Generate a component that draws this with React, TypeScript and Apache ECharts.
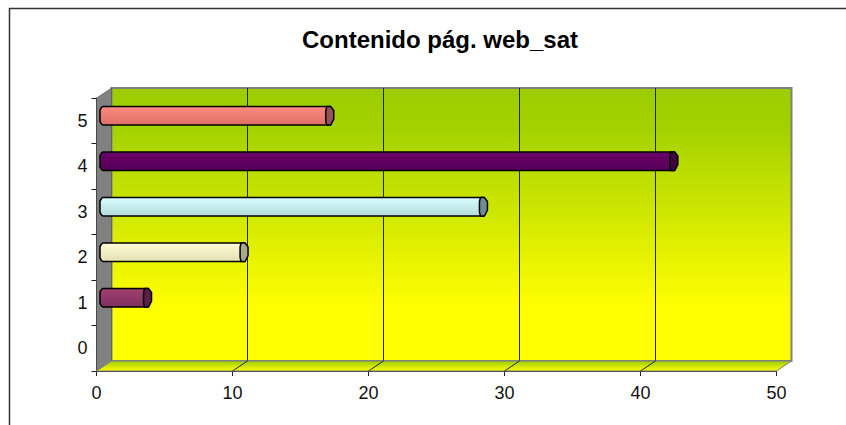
import React, { useEffect, useRef } from "react";
import * as echarts from "echarts";

const categories = ["0", "1", "2", "3", "4", "5"];
const values = [0, 3.2, 10.3, 27.9, 41.9, 16.6];
const bodyTop = ["#000000", "#a04070", "#fffbd8", "#d8ffff", "#6a006a", "#ff8a80"];
const bodyBottom = ["#000000", "#803060", "#e4e0b0", "#b4dcdc", "#580058", "#dd7068"];
const capColors = ["#000000", "#5c2048", "#a8a88c", "#708c90", "#400040", "#985058"];
const xTicks = [0, 10, 20, 30, 40, 50];
const DX = 15;
const DY = -10;

const font = "'Liberation Sans', Arial, sans-serif";

export default function App() {
  const ref = useRef<HTMLDivElement>(null);
  useEffect(() => {
    document.body.style.margin = "0";
    const chart = echarts.init(ref.current!, null, { renderer: "svg" });
    const wallGradient = new echarts.graphic.LinearGradient(0, 0, 0, 1, [
      { offset: 0, color: "#9ccc00" },
      { offset: 0.15, color: "#a4d200" },
      { offset: 0.8, color: "#ffff00" },
      { offset: 1, color: "#ffff00" },
    ]);
    chart.setOption({
      animation: false,
      backgroundColor: "#ffffff",
      title: {
        text: "Contenido pág. web_sat",
        left: 297,
        top: 22,
        textStyle: { fontFamily: font, fontSize: 24, fontWeight: "bold", color: "#000" },
      },
      graphic: [
        {
          type: "polyline",
          shape: { points: [[9.5, 425], [9.5, 8.5], [846, 8.5]] },
          style: { stroke: "#333333", fill: "none", lineWidth: 1.5 },
        },
      ],
      grid: [
        { left: 96.5, top: 98, width: 680, height: 273, containLabel: false, z: 3 },
        {
          left: 111.5, top: 88, width: 680, height: 273, show: true, z: 0,
          backgroundColor: wallGradient, borderColor: "#808080", borderWidth: 2,
        },
      ],
      xAxis: [
        {
          type: "value", gridIndex: 0, min: 0, max: 50, interval: 10,
          axisLine: { show: true, lineStyle: { color: "#222", width: 1 } },
          axisTick: { show: true, length: 5, lineStyle: { color: "#222" } },
          axisLabel: { fontFamily: font, fontSize: 18, color: "#111", margin: 13 },
          splitLine: { show: false },
        },
        {
          type: "value", gridIndex: 1, min: 0, max: 50, interval: 10,
          axisLine: { show: false }, axisTick: { show: false }, axisLabel: { show: false },
          splitLine: { show: true, showMinLine: false, showMaxLine: false, lineStyle: { color: "#222", width: 1 } },
        },
      ],
      yAxis: [
        {
          type: "category", gridIndex: 0, data: categories,
          axisLine: { show: true, lineStyle: { color: "#222", width: 1 } },
          axisTick: { show: true, length: 5, alignWithLabel: false, lineStyle: { color: "#222" } },
          axisLabel: { fontFamily: font, fontSize: 18, color: "#111", margin: 9 },
          splitLine: { show: false },
        },
        { type: "category", gridIndex: 1, data: categories, show: false },
      ],
      series: [
        {
          type: "custom",
          name: "walls",
          xAxisIndex: 0,
          yAxisIndex: 0,
          silent: true,
          z: 1,
          clip: false,
          data: [[0, 0]],
          renderItem: (_p: any, api: any) => {
            const bandH = api.size([0, 1])[1];
            const left = api.coord([0, 0])[0];
            const right = api.coord([50, 0])[0];
            const bottom = api.coord([0, 0])[1] + bandH / 2;
            const top = api.coord([0, 5])[1] - bandH / 2;
            const children: any[] = [
              {
                type: "polygon",
                shape: { points: [[left, top], [left + DX, top + DY], [left + DX, bottom + DY], [left, bottom]] },
                style: { fill: "#808080", stroke: "#444444", lineWidth: 0.5 },
              },
              {
                type: "polygon",
                shape: { points: [[left, bottom], [left + DX, bottom + DY], [right + DX, bottom + DY], [right, bottom]] },
                style: {
                  fill: new echarts.graphic.LinearGradient(0, 0, 0, 1, [
                    { offset: 0, color: "#9ccc00" },
                    { offset: 1, color: "#ffff00" },
                  ]),
                  stroke: "#808080",
                  lineWidth: 1,
                },
              },
            ];
            xTicks.slice(1, -1).forEach((t) => {
              const x = api.coord([t, 0])[0];
              children.push({
                type: "line",
                shape: { x1: x, y1: bottom, x2: x + DX, y2: bottom + DY },
                style: { stroke: "#222", lineWidth: 1 },
              });
            });
            return { type: "group", children };
          },
        },
        {
          type: "custom",
          name: "web_sat",
          xAxisIndex: 0,
          yAxisIndex: 0,
          z: 5,
          clip: false,
          data: values.map((v, i) => [v, i]),
          renderItem: (params: any, api: any) => {
            const idx = params.dataIndex;
            const v = api.value(0);
            if (!v) return { type: "group", children: [] };
            const o = api.coord([0, api.value(1)]);
            const e = api.coord([v, api.value(1)]);
            const x0 = o[0] + DX / 2;
            const x1 = e[0] + DX / 2;
            const cy = o[1] + DY / 2;
            const h = 18.5;
            const r = 4;
            const t = cy - h / 2;
            const b = cy + h / 2;
            return {
              type: "group",
              children: [
                {
                  type: "polygon",
                  shape: {
                    points: [
                      [x0 - r, t + 3.5],
                      [x0 - r + 1.5, t + 1],
                      [x0 - r + 3, t],
                      [x1, t],
                      [x1, b],
                      [x0 - r + 3, b],
                      [x0 - r + 1.5, b - 1],
                      [x0 - r, b - 3.5],
                    ],
                  },
                  style: {
                    fill: new echarts.graphic.LinearGradient(0, 0, 0, 1, [
                      { offset: 0, color: bodyTop[idx] },
                      { offset: 1, color: bodyBottom[idx] },
                    ]),
                    stroke: "#000",
                    lineWidth: 1.5,
                  },
                },
                {
                  type: "polygon",
                  shape: {
                    points: [
                      [x1 - r + 1, t],
                      [x1 + 1, t],
                      [x1 + r, t + 4],
                      [x1 + r, b - 6],
                      [x1 + 1, b],
                      [x1 - r + 1, b],
                      [x1 - r, b - 4],
                      [x1 - r, t + 4],
                    ],
                  },
                  style: { fill: capColors[idx], stroke: "#000", lineWidth: 1.5 },
                },
              ],
            };
          },
        },
      ],
    });
    return () => chart.dispose();
  }, []);
  return <div ref={ref} style={{ position: "absolute", left: 0, top: 0, width: 846, height: 425 }} />;
}
